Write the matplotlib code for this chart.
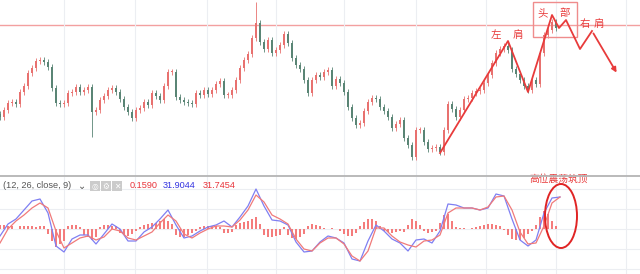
import numpy as np
import matplotlib
matplotlib.use("Agg")
import matplotlib.pyplot as plt
from matplotlib.patches import Rectangle, Ellipse
from matplotlib.lines import Line2D

plt.rcParams['font.family'] = ['Noto Sans CJK SC', 'DejaVu Sans']

# ================= 数据 =================
# 收盘价 (每根K线一个值, 任意价格单位)
closes = [59, 66, 73, 74, 72, 84, 90, 103, 108, 115,
          116, 114, 109, 88, 73, 72, 73, 83, 84, 89,
          84, 86, 89, 64, 66, 76, 80, 86, 88, 84,
          77, 69, 64, 58, 66, 68, 74, 71, 83, 80,
          76, 90, 104, 104, 79, 76, 74, 73, 72, 83,
          81, 86, 82, 86, 92, 95, 81, 81, 86, 96,
          108, 116, 122, 138, 153, 134, 127, 136, 123, 126,
          131, 142, 133, 118, 111, 107, 96, 83, 96, 101,
          99, 104, 106, 90, 97, 93, 84, 69, 58, 51,
          53, 65, 74, 78, 77, 69, 65, 59, 48, 52,
          56, 38, 31, 19, 46, 46, 34, 27, 28, 29,
          24, 46, 72, 67, 59, 66, 77, 78, 83, 85,
          86, 93, 101, 113, 123, 127, 130, 126, 107, 102,
          96, 90, 86, 96, 92, 123, 141, 146, 154, 148]
first_open = 62
wick = 3
spike_high = {64: 174}
spike_low = {23: 39, 103: 16}

# MACD (每两根K线取一个点)
macd_line = [-7, 5, 10, 19, 28, 30, 16, -17, -23, -10,
             -6, -6, -15, -5, 5, 0, -12, -12, -3, 2,
             10, 19, 4, -9, -7, -2, 2, 4, 8, 2,
             12, 23, 40, 23, 9, 8, 4, -13, -23, -22,
             -13, -7, -9, -14, -30, -32, -12, 4, -2, -10,
             -14, -22, -11, -10, -14, -2, 25, 24, 21, 21,
             19, 21, 35, 33, 10, -11, -17, -11, 16, 31,
             32]
signal_line = [-14, 0, 8, 14, 21, 26, 21, -2, -19, -14,
               -9, -7, -11, -8, 0, -2, -9, -11, -7, -3,
               6, 14, 8, -5, -9, -4, 0, 3, 3, 2,
               9, 19, 34, 27, 14, 10, 5, -10, -20, -22,
               -14, -9, -9, -15, -27, -32, -22, 1, 1, -7,
               -13, -16, -18, -12, -11, -6, 16, 21, 21, 21,
               19, 22, 32, 33, 19, -3, -15, -14, 3, 26,
               32]
histogram = [4, 4, 3, 3, 0, 3, 3, 3, 3, 2,
             3, 3, -5, -12, -18, -15, -12, 3, 4, 4,
             2, -6, -8, -11, -8, 2, 4, 4, 3, 3,
             -4, -6, -7, -5, -2, 2, 4, 5, 6, 6,
             8, 10, 8, 5, -6, -8, -8, -6, -4, -2,
             2, 3, 3, 3, 3, 2, -4, -4, -3, 4,
             6, 7, 8, 10, 12, 5, -6, -8, -8, -7,
             -6, 2, -6, -9, -10, -8, -5, 3, 5, 4,
             3, 1, 0, 1, 0, -2, -5, -7, -7, -4,
             3, 7, 10, 10, 8, 3, -2, -3, -4, -3,
             -2, -3, 4, 10, 8, 4, -2, -4, -3, -2,
             6, 14, 15, 8, 2, 1, 1, 0, 1, 2,
             3, 4, 5, 5, 4, 3, -1, -6, -10, -11,
             -11, -9, -5, -2, 4, 12, 18, 15, 8, 3]

# 头肩顶示意折线
pattern_x = [110, 127, 132, 138, 139.75, 141.5, 145, 148, 154.5]
pattern_y = [23, 135, 84, 161, 148, 156, 127, 145, 101]
resist_level = 151
ann_labels = ['头', '部', '左', '肩', '右', '肩']
ann_x = [135.75, 141.25, 124, 129.5, 146.25, 149.75]
ann_y = [163, 163, 141, 141, 152, 152]

time_grid = [16, 33.75, 51.75, 69, 86, 104, 121.5, 139, 156.5]

# ================= 绘图 =================
UP = '#e8716f'
DOWN = '#5a8575'
RED = '#e83b3b'

fig = plt.figure(figsize=(6.4, 2.74), dpi=100)
ax = fig.add_axes([0, 98 / 274, 1, 176 / 274])
ax2 = fig.add_axes([0, 0, 1, 97 / 274])

idx = np.arange(len(closes))
c = np.array(closes, dtype=float)
o = np.array([first_open] + closes[:-1], dtype=float)
hi = np.maximum(o, c) + wick
lo = np.minimum(o, c) - wick
for k, v in spike_high.items():
    hi[k] = v
for k, v in spike_low.items():
    lo[k] = v
cols = [UP if cc >= oo else DOWN for oo, cc in zip(o, c)]

ax.vlines(idx, lo, hi, colors=cols, lw=0.6, zorder=2)
body_h = np.maximum(np.abs(c - o), 0.8)
ax.bar(idx, body_h, bottom=np.minimum(o, c), width=0.5, color=cols, lw=0, zorder=3)

ax.axhline(resist_level, color='#f3a0a0', lw=1.0, zorder=1)
ax.plot(pattern_x[:-1], pattern_y[:-1], color=RED, lw=1.3, zorder=5)
ax.annotate('', xy=(pattern_x[-1], pattern_y[-1]), xytext=(pattern_x[-2], pattern_y[-2]),
            arrowprops=dict(arrowstyle='-|>', color=RED, lw=1.3, mutation_scale=7), zorder=5)
ax.add_patch(Rectangle((133.25, 139), 11, 35, fill=False, ec='#ef8c8c', lw=1.0, zorder=4))
for t, xx, yy in zip(ann_labels, ann_x, ann_y):
    ax.text(xx, yy, t, color=RED, fontsize=7.5, ha='center', va='center', zorder=6)

# MACD 子图
mx = np.arange(len(macd_line)) * 2
ax2.bar(idx, histogram, width=0.5, color='#f47c7c', lw=0, zorder=2)
ax2.plot(mx, macd_line, color='#7f7ff2', lw=0.9, zorder=3)
ax2.plot(mx, signal_line, color='#f07a7a', lw=0.9, zorder=3)
ax2.add_patch(Ellipse((140.25, 13), 8, 64, fill=False, ec='#e02424', lw=1.4, zorder=5))
ax2.text(139.75, 50, '高位震荡筑顶', color=RED, fontsize=7, ha='center', va='center',
         clip_on=False, zorder=6)

for a in (ax, ax2):
    a.set_xlim(0, 160)
    a.set_xticks(time_grid)
    a.grid(True, axis='x', color='#eceef2', lw=0.8, zorder=0)
    a.tick_params(length=0, labelbottom=False, labelleft=False)
    for s in a.spines.values():
        s.set_visible(False)
ax.set_ylim(0, 176)
ax2.set_ylim(-45, 52)
ax2.set_yticks([-40, -20, 0, 20, 40])
ax2.grid(True, axis='y', color='#eceef2', lw=0.8, zorder=0)

fig.add_artist(Line2D([0, 1], [98 / 274, 98 / 274], color='#b4b4b4', lw=1.3))

# 指标图例
ly = 1 - 186 / 274
fnt = ['Liberation Sans', 'DejaVu Sans']
fig.text(3 / 640, ly, '(12, 26, close, 9)', color='#555555', fontsize=6.6, family=fnt, va='center')
fig.text(78 / 640, ly, '⌄', color='#555555', fontsize=7, family=['DejaVu Sans'], va='center')
for bx, sym in zip([90, 101, 112], ['◎', '⚙', '✕']):
    fig.add_artist(Rectangle((bx / 640, 1 - 191 / 274), 10 / 640, 10 / 274,
                             transform=fig.transFigure, color='#cbcbcb', lw=0))
    fig.text((bx + 5) / 640, ly, sym, color='white', fontsize=5.5, ha='center', va='center',
             family=['DejaVu Sans'])
fig.text(130 / 640, ly, '0.1590', color='#e8333a', fontsize=6.6, family=fnt, va='center')
fig.text(163 / 640, ly, '31.9044', color='#3434e0', fontsize=6.6, family=fnt, va='center')
fig.text(203 / 640, ly, '31.7454', color='#e8333a', fontsize=6.6, family=fnt, va='center')

fig.savefig('out.png', dpi=100)
